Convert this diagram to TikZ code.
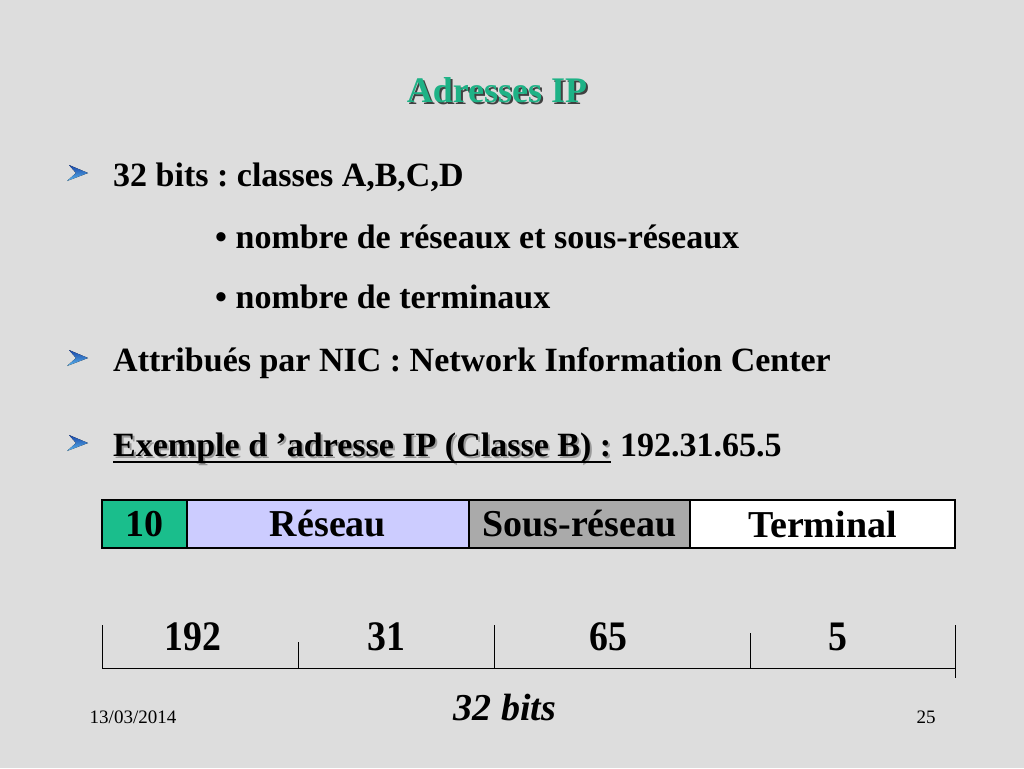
\documentclass[tikz,border=0pt]{standalone}
\usepackage{fontspec}
\setmainfont{Liberation Serif}
\usetikzlibrary{positioning}
\frenchspacing
\definecolor{slidebg}{RGB}{221,221,221}
\definecolor{titlegreen}{RGB}{30,178,134}
\definecolor{netgreen}{RGB}{26,190,140}
\definecolor{netblue}{RGB}{204,204,255}
\definecolor{subgray}{RGB}{170,170,170}
\definecolor{chevdark}{RGB}{25,70,170}
\definecolor{chevlight}{RGB}{90,180,235}
\begin{document}
\begin{tikzpicture}[x=1pt, y=-1pt,
    txt/.style={inner sep=0pt, anchor=base west, font=\fontsize{34}{40}\selectfont\bfseries},
    cell/.style={draw, line width=1.2pt, minimum height=48pt, inner sep=0pt, outer sep=0pt, anchor=west,
      font=\fontsize{38}{44}\selectfont\bfseries},
    num/.style={inner sep=0pt, font=\fontsize{42}{48}\selectfont\bfseries, xscale=0.9},
    foot/.style={inner sep=0pt, font=\fontsize{19}{22}\selectfont},
    tick/.style={line width=1pt}]
    \fill[slidebg] (0,0) rectangle (1024,768);
    \useasboundingbox (0,0) rectangle (1024,768);
    % title
    \node[inner sep=0pt, font=\fontsize{36}{42}\selectfont\bfseries, text=black!75] (titleshadow) at (499,92) {Adresses IP};
    \node[inner sep=0pt, font=\fontsize{36}{42}\selectfont\bfseries, text=titlegreen] (title) at (497,90) {Adresses IP};
    % bullets
    \foreach \y in {173,358,443}
      \fill[top color=chevdark, bottom color=chevlight] (69,\y-8) -- (88,\y) -- (67,\y+8) -- (76,\y) -- cycle;
    \node[txt] (b1) at (113,186) {32 bits : classes A,B,C,D};
    \node[txt] (s1) at (215,248) {• nombre de réseaux et sous-réseaux};
    \node[txt] (s2) at (215,308) {• nombre de terminaux};
    \node[txt] (b2) at (113,371) {Attribués par NIC : Network Information Center};
    \node[txt, text=black!40] (exshadow) at (115,458) {Exemple d ’adresse IP (Classe B) :};
    \node[txt] (ex) at (113,456) {Exemple d ’adresse IP (Classe B) :};
    \node[txt] (ip) at ([xshift=8.5pt]ex.base east) {192.31.65.5};
    \draw[line width=1.5pt] ([yshift=-6pt]ex.base west) -- ([yshift=-6pt]ex.base east);
    % address fields
    \node[cell, fill=netgreen, minimum width=85pt] (c1) at (102,524) {10};
    \node[cell, fill=netblue, minimum width=282pt, right=0pt of c1] (c2) {Réseau};
    \node[cell, fill=subgray, minimum width=221pt, right=0pt of c2] (c3) {Sous-réseau};
    \node[cell, fill=white, minimum width=265pt, right=0pt of c3] (c4) {Terminal};
    % byte scale
    \coordinate (t0) at (102,625);
    \coordinate (t1) at (298,642);
    \coordinate (t2) at (494,625);
    \coordinate (t3) at (750,633);
    \coordinate (t4) at (955,625);
    \coordinate (t5) at (955,678);
    \coordinate (l0) at (102,668);
    \coordinate (l1) at (298,668);
    \coordinate (l2) at (494,668);
    \coordinate (l3) at (750,668);
    \coordinate (l4) at (955,668);
    \draw[tick] (t0) -- (l0) -- (l4);
    \draw[tick] (t1) -- (l1);
    \draw[tick] (t2) -- (l2);
    \draw[tick] (t3) -- (l3);
    \draw[tick] (t4) -- (t5);
    \node[num] (n1) at (193,637) {192};
    \node[num] (n2) at (386,637) {31};
    \node[num] (n3) at (608,637) {65};
    \node[num] (n4) at (838,637) {5};
    \node[inner sep=0pt, font=\fontsize{38}{44}\selectfont\bfseries\itshape] (len) at (505,708) {32 bits};
    % footer
    \node[foot] (date) at (133,717) {13/03/2014};
    \node[foot] (page) at (926,717) {25};
\end{tikzpicture}
\end{document}
